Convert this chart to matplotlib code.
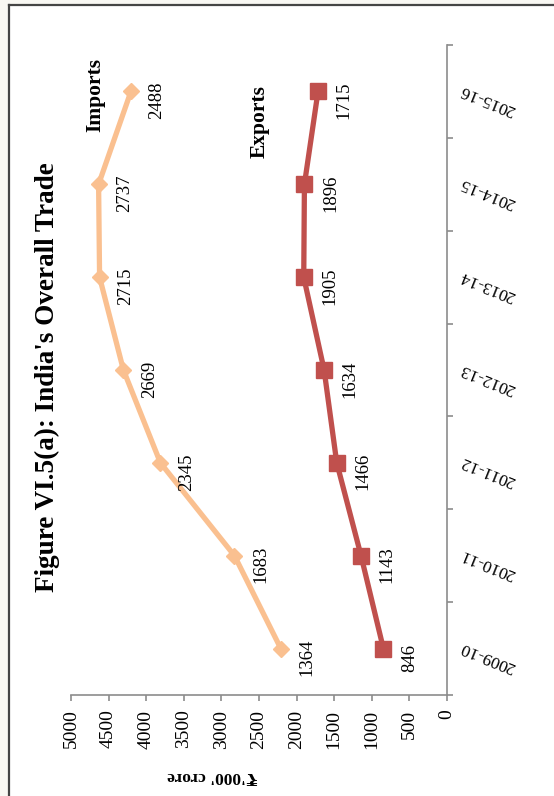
import numpy as np
import matplotlib
matplotlib.use('Agg')
import matplotlib.pyplot as plt
from matplotlib.lines import Line2D
from matplotlib.patches import Rectangle
import matplotlib.transforms as mtransforms

years = ['2009-10', '2010-11', '2011-12', '2012-13', '2013-14', '2014-15', '2015-16']
exports = [846, 1143, 1466, 1634, 1905, 1896, 1715]
imports = [1364, 1683, 2345, 2669, 2715, 2737, 2488]
value_ticks = [0, 500, 1000, 1500, 2000, 2500, 3000, 3500, 4000, 4500, 5000]

SERIF = ['Liberation Serif', 'DejaVu Serif', 'DejaVu Sans']
plt.rcParams['font.family'] = SERIF

W, H = 554, 796
fig = plt.figure(figsize=(W / 100, H / 100), dpi=100, facecolor='#f9f8f3')

# white page with dark frame on top and left
fig.patches.append(Rectangle((9 / W, 0), 1, 1 - 5 / H, transform=fig.transFigure,
                             facecolor='white', edgecolor='none', zorder=-10))
fig.lines.append(Line2D([9 / W, 9 / W], [0, 1 - 5 / H], transform=fig.transFigure,
                        color='#454545', lw=1.6))
fig.lines.append(Line2D([9 / W, 1], [1 - 5 / H, 1 - 5 / H], transform=fig.transFigure,
                        color='#454545', lw=1.6))

# chart is printed rotated 90 deg: values run right->left, years bottom->top
ax = fig.add_axes([71 / W, 1 - 695 / H, (447 - 71) / W, (695 - 45) / H])
ax.set_facecolor('none')

pos = np.arange(len(years))
exp_arr = np.array(exports)
stacked = exp_arr + np.array(imports)  # stacked line chart

ax.plot(stacked, pos, color='#fac090', lw=3.8, marker='D', ms=8.5,
        mec='#fac090', mfc='#fac090', zorder=3)
ax.plot(exp_arr, pos, color='#c0504d', lw=3.8, marker='s', ms=12,
        mec='#c0504d', mfc='#c0504d', zorder=3)

# data labels (raw series values)
for x, y, v in zip(stacked, pos, imports):
    ax.annotate(str(v), (x, y), xytext=(26, -9), textcoords='offset pixels',
                rotation=90, ha='center', va='center', fontsize=13.5)
for x, y, v in zip(exp_arr, pos, exports):
    ax.annotate(str(v), (x, y), xytext=(26, -9), textcoords='offset pixels',
                rotation=90, ha='center', va='center', fontsize=13.5)

ax.set_xlim(5000, 0)
ax.set_ylim(-0.5, len(years) - 0.5)

for s in ['top', 'left']:
    ax.spines[s].set_visible(False)
for s in ['bottom', 'right']:
    ax.spines[s].set_color('#8c8c8c')
    ax.spines[s].set_linewidth(1.2)

ax.set_xticks(value_ticks)
ax.set_xticklabels([str(v) for v in value_ticks], rotation=90, fontsize=14)
ax.tick_params(axis='x', direction='out', length=4.5, width=1.2, color='#8c8c8c', pad=6)

ax.yaxis.tick_right()
ax.set_yticks(np.arange(-0.5, len(years), 1.0))
ax.set_yticklabels([])
ax.tick_params(axis='y', direction='out', length=4.5, width=1.2, color='#8c8c8c')

# year labels, upside down and tilted
trans = mtransforms.blended_transform_factory(ax.transAxes, ax.transData)
for y, lab in zip(pos, years):
    ax.text(1.11, y - 0.09, lab, transform=trans, rotation=158,
            ha='center', va='center', fontsize=12.5, rotation_mode='anchor')

# series names
ax.text(95 / W, 1 - 95 / H, 'Imports', transform=fig.transFigure, rotation=90,
        ha='center', va='center', fontsize=15.5, fontweight='bold')
ax.text(260 / W, 1 - 122 / H, 'Exports', transform=fig.transFigure, rotation=90,
        ha='center', va='center', fontsize=15.5, fontweight='bold')

# title and axis label
fig.text(47 / W, 1 - 377 / H, "Figure VI.5(a): India's Overall Trade", rotation=90,
         ha='center', va='center', fontsize=19.5, fontweight='bold')
fig.text(213 / W, 1 - 776 / H, "\u20b9'000' crore", rotation=180,
         ha='center', va='center', fontsize=12.5, fontweight='bold')

fig.savefig('out.png', dpi=100, facecolor=fig.get_facecolor())
